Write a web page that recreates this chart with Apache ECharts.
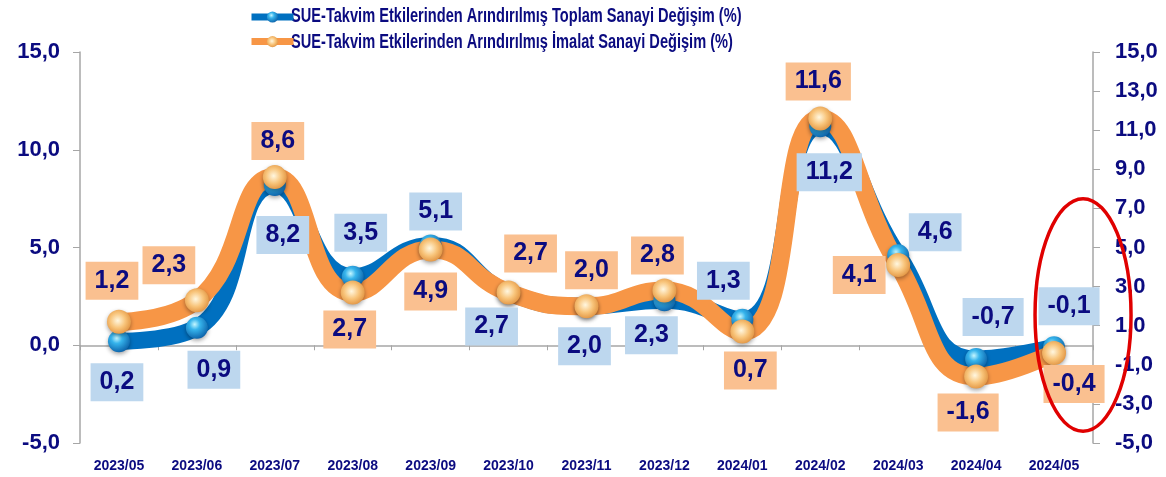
<!DOCTYPE html>
<html>
<head>
<meta charset="utf-8">
<script src="https://cdn.jsdelivr.net/npm/echarts@6/dist/echarts.min.js"></script>
<style>
  html, body { margin: 0; padding: 0; background: #fff; }
  #chart { width: 1166px; height: 477px; }
</style>
</head>
<body>
<div id="chart"></div>
<script>
// veriler
const categories = ['2023/05', '2023/06', '2023/07', '2023/08', '2023/09', '2023/10', '2023/11',
  '2023/12', '2024/01', '2024/02', '2024/03', '2024/04', '2024/05'];
const toplamSanayi = [0.2, 0.9, 8.2, 3.5, 5.1, 2.7, 2.0, 2.3, 1.3, 11.2, 4.6, -0.7, -0.1];
const imalatSanayi = [1.2, 2.3, 8.6, 2.7, 4.9, 2.7, 2.0, 2.8, 0.7, 11.6, 4.1, -1.6, -0.4];
const leftTickLabels = ['-5,0', '0,0', '5,0', '10,0', '15,0'];
const rightTickLabels = ['-5,0', '-3,0', '-1,0', '1,0', '3,0', '5,0', '7,0', '9,0', '11,0', '13,0', '15,0'];
const seriesNames = [
  'SUE-Takvim Etkilerinden Arındırılmış Toplam Sanayi Değişim (%)',
  'SUE-Takvim Etkilerinden Arındırılmış İmalat Sanayi Değişim (%)'
];

// etiket kaydırmaları (noktaya göre)
const toplamLabelOffsets = [[-2, 41], [17, 42], [8, 50], [8, -44], [5, -34], [-17, 34], [-2, 40],
  [-13, 35], [-19, -39], [9, 46], [37, -23], [17, -42], [15, -41]];
const imalatLabelOffsets = [[-7, -41], [-28, -35], [3, -36], [-3, 37], [0, 42], [22, -39], [5, -36],
  [-7, -35], [8, 39], [-2, -37], [-39, 10], [-8, 36], [20, 31]];

const NAVY = '#0b0b80';
const FONT = 'Arial, "Liberation Sans", sans-serif';
const fmt = v => v.toFixed(1).replace('.', ',');

const blueSphere = {
  type: 'radial', x: 0.4, y: 0.35, r: 0.7,
  colorStops: [
    { offset: 0, color: '#c4f6ff' },
    { offset: 0.35, color: '#36b4ec' },
    { offset: 1, color: '#0a5ea6' }
  ]
};
const orangeSphere = {
  type: 'radial', x: 0.45, y: 0.45, r: 0.7,
  colorStops: [
    { offset: 0, color: '#fff7e0' },
    { offset: 0.45, color: '#f8c47a' },
    { offset: 1, color: '#d8802a' }
  ]
};

const buildData = (values, offsets, bg) => values.map((v, i) => ({
  value: v,
  label: {
    show: true,
    position: 'inside',
    offset: offsets[i],
    formatter: p => fmt(p.value),
    backgroundColor: bg,
    color: NAVY,
    fontFamily: FONT,
    fontWeight: 'bold',
    fontSize: 25,
    padding: [7, 9, 6, 9]
  }
}));

const chart = echarts.init(document.getElementById('chart'));

const option = {
  animation: false,
  grid: { left: 80, right: 73, top: 52, bottom: 34 },
  // simgeler lejanttan, yazılar aşağıdaki graphic ile (dar yazı için)
  legend: {
    orient: 'vertical',
    left: 243,
    top: 5,
    itemWidth: 42,
    itemHeight: 14,
    itemGap: 12,
    lineStyle: { width: 7 },
    formatter: () => '',
    textStyle: { fontSize: 1, padding: 0 },
    data: seriesNames
  },
  graphic: seriesNames.map((name, i) => ({
    type: 'text',
    left: 291,
    top: 6 + i * 26,
    scaleX: 0.73,
    style: {
      text: name,
      fill: NAVY,
      font: 'bold 20px ' + FONT
    }
  })),
  xAxis: [
    {
      type: 'category',
      data: categories,
      position: 'bottom',
      axisLine: { show: false, onZero: false },
      axisTick: { show: false },
      axisLabel: {
        margin: 16,
        color: NAVY,
        fontFamily: FONT,
        fontWeight: 'bold',
        fontSize: 14
      }
    },
    {
      type: 'category',
      data: categories,
      position: 'bottom',
      axisLine: { show: true, onZero: true, lineStyle: { color: '#a6a6a6', width: 1.5 } },
      axisTick: { show: true, length: 5, lineStyle: { color: '#a6a6a6' } },
      axisLabel: { show: false }
    }
  ],
  yAxis: [
    {
      type: 'value',
      min: -5,
      max: 15,
      interval: 5,
      splitLine: { show: false },
      axisLine: { show: true, lineStyle: { color: '#a6a6a6', width: 1.5 } },
      axisTick: { show: true, length: 7, lineStyle: { color: '#a6a6a6' } },
      axisLabel: {
        margin: 20,
        color: NAVY,
        fontFamily: FONT,
        fontWeight: 'bold',
        fontSize: 22,
        formatter: v => leftTickLabels[Math.round((v + 5) / 5)]
      }
    },
    {
      type: 'value',
      position: 'right',
      min: 0,
      max: 20,
      interval: 2,
      splitLine: { show: false },
      axisLine: { show: true, lineStyle: { color: '#a6a6a6', width: 1.5 } },
      axisTick: { show: true, length: 7, lineStyle: { color: '#a6a6a6' } },
      axisLabel: {
        margin: 22,
        color: NAVY,
        fontFamily: FONT,
        fontWeight: 'bold',
        fontSize: 22,
        formatter: v => rightTickLabels[Math.round(v / 2)]
      }
    }
  ],
  series: [
    {
      name: seriesNames[0],
      type: 'line',
      data: buildData(toplamSanayi, toplamLabelOffsets, '#bdd7ee'),
      smooth: 0.5,
      symbol: 'circle',
      symbolSize: 22,
      lineStyle: { color: '#0070c0', width: 17 },
      itemStyle: {
        color: blueSphere,
        shadowBlur: 4,
        shadowOffsetY: 2,
        shadowColor: 'rgba(0,0,0,0.35)'
      },
      emphasis: { disabled: true }
    },
    {
      name: seriesNames[1],
      type: 'line',
      data: buildData(imalatSanayi, imalatLabelOffsets, '#fac090'),
      smooth: 0.5,
      symbol: 'circle',
      symbolSize: 24,
      lineStyle: { color: '#f79646', width: 18 },
      itemStyle: {
        color: orangeSphere,
        shadowBlur: 4,
        shadowOffsetY: 2,
        shadowColor: 'rgba(0,0,0,0.35)'
      },
      emphasis: { disabled: true }
    }
  ]
};

chart.setOption(option);

// son aya işaret eden kırmızı elips
const lastIdx = categories.length - 1;
const ellTop = chart.convertToPixel({ xAxisIndex: 0, yAxisIndex: 0 }, [lastIdx, 7.5]);
const ellBottom = chart.convertToPixel({ xAxisIndex: 0, yAxisIndex: 0 }, [lastIdx, -4.4]);
chart.setOption({
  graphic: option.graphic.concat([{
    type: 'ellipse',
    shape: {
      cx: ellTop[0] + 29,
      cy: (ellTop[1] + ellBottom[1]) / 2,
      rx: 48,
      ry: (ellBottom[1] - ellTop[1]) / 2
    },
    style: { fill: 'none', stroke: '#e00000', lineWidth: 3.5 },
    z: 100
  }])
});
</script>
</body>
</html>
